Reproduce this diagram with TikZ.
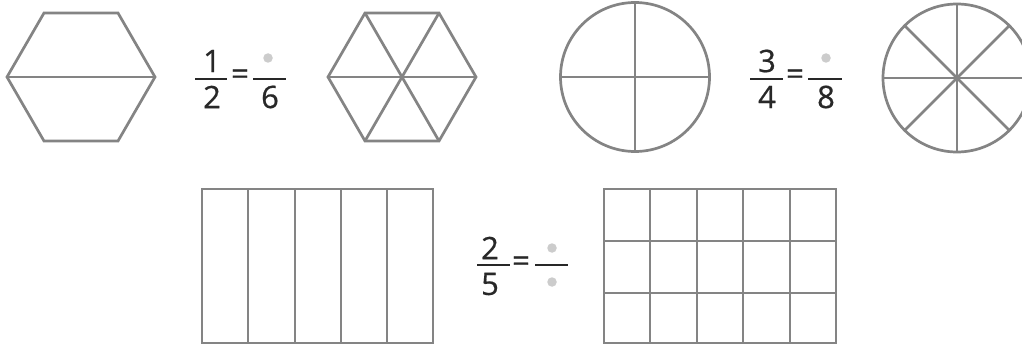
\documentclass[tikz,border=0pt]{standalone}
\usepackage{fontspec}
\setmainfont{Open Sans}
\newfontfamily\numfont{Open Sans}[FakeBold=0.6]
\usetikzlibrary{positioning}
\definecolor{shapeGray}{RGB}{132,132,132}
\definecolor{dotGray}{RGB}{204,204,204}
\definecolor{inkGray}{RGB}{40,40,40}

\begin{document}
\begin{tikzpicture}[
  x=1pt,y=-1pt,
  part/.style={draw=shapeGray,line width=2.7pt,line join=miter},
  digit/.style={font=\numfont\fontsize{31}{31}\selectfont,text=inkGray,inner sep=0pt},
  bar/.style={draw=inkGray,line width=2.3pt},
  blank/.style={circle,fill=dotGray,minimum size=9.5pt,inner sep=0pt}
]
  \clip (0,0) rectangle (1022,345);
  \fill[white] (0,0) rectangle (1022,345);

  % halves of a hexagon
  \draw[part] (7,77) -- (44,13) -- (118,13) -- (155,77) -- (118,141) -- (44,141) -- cycle;
  \draw[part] (7,77) -- (155,77);

  \node[digit] (n12) at (212,61) {1};
  \node[digit] (d12) at (212,97) {2};
  \draw[bar] (195,79) -- (227,79);
  \node[digit] (eq12) at (240,77) {=};
  \node[blank] (b6) at (268,58) {};
  \node[digit] (d6) at (270,97) {6};
  \draw[bar] (253,79) -- (286,79);

  % sixths of a hexagon
  \draw[part] (328,77) -- (365,13) -- (439,13) -- (476,77) -- (439,141) -- (365,141) -- cycle;
  \draw[part] (328,77) -- (476,77);
  \draw[part] (365,13) -- (439,141);
  \draw[part] (439,13) -- (365,141);

  % quarters of a circle
  \draw[part] (635,77) circle (74.5);
  \draw[part] (560.5,77) -- (709.5,77);
  \draw[part] (635,2.5) -- (635,151.5);

  \node[digit] (n34) at (767,61) {3};
  \node[digit] (d34) at (767,97) {4};
  \draw[bar] (750,79) -- (783,79);
  \node[digit] (eq34) at (795,77) {=};
  \node[blank] (b8) at (826,58) {};
  \node[digit] (d8) at (826,97) {8};
  \draw[bar] (808,79) -- (842,79);

  % eighths of a circle
  \draw[part] (957,78) circle (74);
  \draw[part] (957,78) ++(0:74) -- ++(180:148);
  \draw[part] (957,78) ++(90:74) -- ++(270:148);
  \draw[part] (957,78) ++(45:74) -- ++(225:148);
  \draw[part] (957,78) ++(135:74) -- ++(315:148);

  % fifths of a rectangle
  \draw[part] (202,189) rectangle (433,343);
  \draw[part] (248,189) -- (248,343);
  \draw[part] (295,189) -- (295,343);
  \draw[part] (341,189) -- (341,343);
  \draw[part] (387,189) -- (387,343);

  \node[digit] (n25) at (490,248) {2};
  \node[digit] (d25) at (490,284) {5};
  \draw[bar] (477,265) -- (510,265);
  \node[digit] (eq25) at (521,264) {=};
  \node[blank] (bn) at (552,248) {};
  \node[blank] (bd) at (552,282) {};
  \draw[bar] (535,265) -- (568,265);

  % fifteenths of a rectangle
  \draw[part] (604,189) rectangle (836,343);
  \draw[part] (650,189) -- (650,343);
  \draw[part] (697,189) -- (697,343);
  \draw[part] (743,189) -- (743,343);
  \draw[part] (790,189) -- (790,343);
  \draw[part] (604,241) -- (836,241);
  \draw[part] (604,293) -- (836,293);
\end{tikzpicture}
\end{document}
